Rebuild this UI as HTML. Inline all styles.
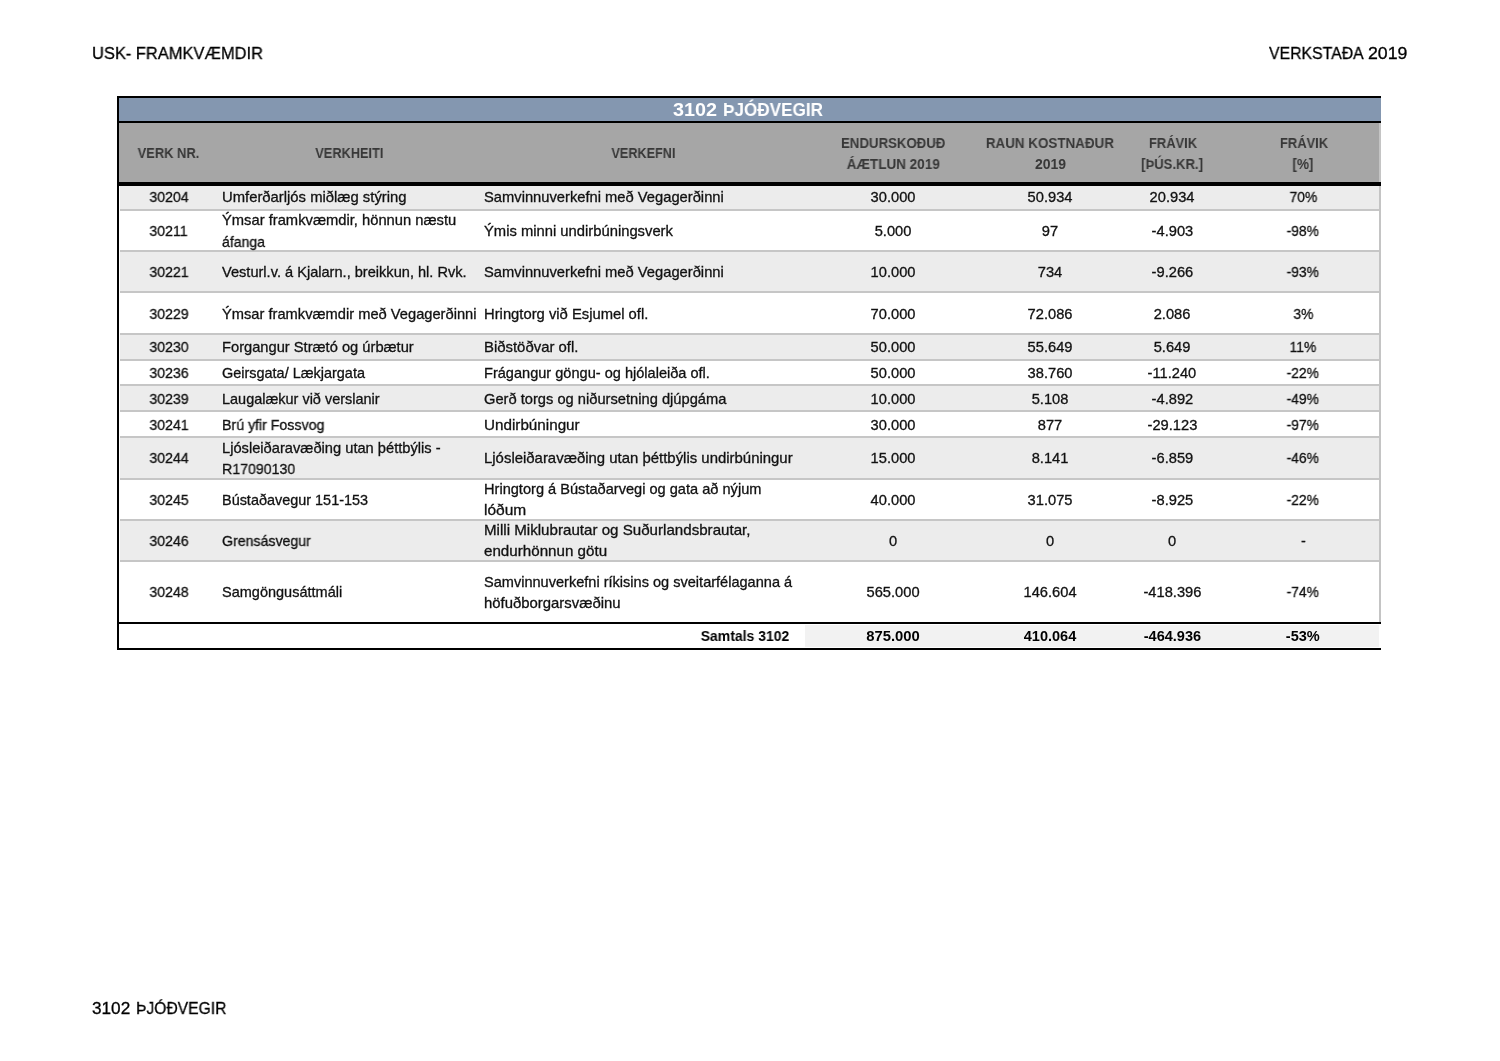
<!DOCTYPE html>
<html><head><meta charset="utf-8"><style>
*{margin:0;padding:0;box-sizing:border-box}
html,body{width:1500px;height:1061px;background:#fff;overflow:hidden;position:relative}
body{font-family:"Liberation Sans",sans-serif;color:#000}
.t{position:absolute;height:20px;line-height:20px;white-space:nowrap}
.t span{display:inline-block;will-change:transform}
.b{font-size:14.4px;color:#111;-webkit-text-stroke:0.3px #111;margin-top:-14.99px}
.h{font-size:14px;font-weight:bold;color:#383838;margin-top:-14.85px}
.tb{font-size:14.4px;font-weight:bold;color:#000;margin-top:-14.99px}
.pg{font-size:17.2px;color:#000;-webkit-text-stroke:0.3px #000;margin-top:-15.96px}
.ti{font-size:18px;font-weight:bold;color:#fff;margin-top:-16.24px}
.l span{transform-origin:0 50%}
.c span{transform-origin:50% 50%}
.r span{transform-origin:100% 50%}
.fill{position:absolute;left:120px;width:1259px}
.sep{position:absolute;left:120px;width:1259px;height:2px;background:#c6c6c6}
.blk{position:absolute;background:#000}
</style></head><body>
<div class="t pg l" style="top:59px;left:91.5px;"><span style="transform:scaleX(0.957)">USK- FRAMKVÆMDIR</span></div>
<div class="t pg l" style="top:59px;left:1268.8px;"><span style="transform:scaleX(0.921)">VERKSTAÐA</span></div>
<div class="t pg l" style="top:59px;left:1368.3px;"><span style="transform:scaleX(1.03)">2019</span></div>
<div class="t pg l" style="top:1014px;left:91.5px;"><span>3102</span></div>
<div class="t pg l" style="top:1014px;left:135.7px;"><span style="transform:scaleX(0.91)">ÞJÓÐVEGIR</span></div>
<div style="position:absolute;left:119px;top:98px;width:1262px;height:23px;background:#8497b0"></div>
<div style="position:absolute;left:119px;top:123px;width:1260px;height:59px;background:#a6a6a6"></div>
<div style="position:absolute;left:1379px;top:123px;width:2px;height:59px;background:#c4c4c4"></div>
<div style="position:absolute;left:1379px;top:186px;width:2px;height:436px;background:#c4c4c4"></div>
<div class="t ti l" style="top:115.8px;left:673.3px;"><span style="transform:scaleX(1.1)">3102</span></div>
<div class="t ti l" style="top:115.8px;left:722.5px;"><span style="transform:scaleX(0.952)">ÞJÓÐVEGIR</span></div>
<div class="t h c" style="top:158px;left:-131.5px;width:600px;text-align:center;"><span style="transform:scaleX(0.921)">VERK NR.</span></div>
<div class="t h c" style="top:158px;left:49.60000000000002px;width:600px;text-align:center;"><span style="transform:scaleX(0.912)">VERKHEITI</span></div>
<div class="t h c" style="top:158px;left:343.5px;width:600px;text-align:center;"><span style="transform:scaleX(0.903)">VERKEFNI</span></div>
<div class="t h c" style="top:147.8px;left:593.2px;width:600px;text-align:center;"><span style="transform:scaleX(0.945)">ENDURSKOÐUÐ</span></div>
<div class="t h c" style="top:168.9px;left:593.5px;width:600px;text-align:center;"><span style="transform:scaleX(0.965)">ÁÆTLUN 2019</span></div>
<div class="t h c" style="top:147.8px;left:750.2px;width:600px;text-align:center;"><span style="transform:scaleX(0.957)">RAUN KOSTNAÐUR</span></div>
<div class="t h c" style="top:168.9px;left:750.2px;width:600px;text-align:center;"><span>2019</span></div>
<div class="t h c" style="top:147.8px;left:873px;width:600px;text-align:center;"><span style="transform:scaleX(0.925)">FRÁVIK</span></div>
<div class="t h c" style="top:168.9px;left:872.4000000000001px;width:600px;text-align:center;"><span style="transform:scaleX(0.935)">[ÞÚS.KR.]</span></div>
<div class="t h c" style="top:147.8px;left:1003.7px;width:600px;text-align:center;"><span style="transform:scaleX(0.925)">FRÁVIK</span></div>
<div class="t h c" style="top:168.9px;left:1003.3px;width:600px;text-align:center;"><span style="transform:scaleX(0.962)">[%]</span></div>
<div class="fill" style="top:186px;height:23px;background:#ececec"></div>
<div class="sep" style="top:209px"></div>
<div class="t b c" style="top:201.7px;left:-131.4px;width:600px;text-align:center;"><span style="transform:scaleX(0.98)">30204</span></div>
<div class="t b l" style="top:201.7px;left:222.2px;"><span style="transform:scaleX(1.03)">Umferðarljós miðlæg stýring</span></div>
<div class="t b l" style="top:201.7px;left:484.3px;"><span style="transform:scaleX(1.023)">Samvinnuverkefni með Vegagerðinni</span></div>
<div class="t b c" style="top:201.7px;left:593.3px;width:600px;text-align:center;"><span style="transform:scaleX(1.02)">30.000</span></div>
<div class="t b c" style="top:201.7px;left:749.5999999999999px;width:600px;text-align:center;"><span style="transform:scaleX(1.02)">50.934</span></div>
<div class="t b c" style="top:201.7px;left:872.3px;width:600px;text-align:center;"><span style="transform:scaleX(1.02)">20.934</span></div>
<div class="t b c" style="top:201.7px;left:1003.3px;width:600px;text-align:center;"><span style="transform:scaleX(0.96)">70%</span></div>
<div class="fill" style="top:211px;height:39px;background:#ffffff"></div>
<div class="sep" style="top:250px"></div>
<div class="t b c" style="top:235.7px;left:-131.4px;width:600px;text-align:center;"><span style="transform:scaleX(0.98)">30211</span></div>
<div class="t b l" style="top:225.2px;left:222.2px;"><span style="transform:scaleX(1.024)">Ýmsar framkvæmdir, hönnun næstu</span></div>
<div class="t b l" style="top:247.2px;left:222.2px;"><span style="transform:scaleX(0.978)">áfanga</span></div>
<div class="t b l" style="top:235.7px;left:484.3px;"><span style="transform:scaleX(1.027)">Ýmis minni undirbúningsverk</span></div>
<div class="t b c" style="top:235.7px;left:593.3px;width:600px;text-align:center;"><span style="transform:scaleX(1.02)">5.000</span></div>
<div class="t b c" style="top:235.7px;left:749.5999999999999px;width:600px;text-align:center;"><span style="transform:scaleX(1.02)">97</span></div>
<div class="t b c" style="top:235.7px;left:872.3px;width:600px;text-align:center;"><span style="transform:scaleX(1.02)">-4.903</span></div>
<div class="t b c" style="top:235.7px;left:1003.3px;width:600px;text-align:center;"><span style="transform:scaleX(0.96)">-98%</span></div>
<div class="fill" style="top:252px;height:39px;background:#ececec"></div>
<div class="sep" style="top:291px"></div>
<div class="t b c" style="top:277.0px;left:-131.4px;width:600px;text-align:center;"><span style="transform:scaleX(0.98)">30221</span></div>
<div class="t b l" style="top:277.0px;left:222.2px;"><span style="transform:scaleX(1.014)">Vesturl.v. á Kjalarn., breikkun, hl. Rvk.</span></div>
<div class="t b l" style="top:277.0px;left:484.3px;"><span style="transform:scaleX(1.023)">Samvinnuverkefni með Vegagerðinni</span></div>
<div class="t b c" style="top:277.0px;left:593.3px;width:600px;text-align:center;"><span style="transform:scaleX(1.02)">10.000</span></div>
<div class="t b c" style="top:277.0px;left:749.5999999999999px;width:600px;text-align:center;"><span style="transform:scaleX(1.02)">734</span></div>
<div class="t b c" style="top:277.0px;left:872.3px;width:600px;text-align:center;"><span style="transform:scaleX(1.02)">-9.266</span></div>
<div class="t b c" style="top:277.0px;left:1003.3px;width:600px;text-align:center;"><span style="transform:scaleX(0.96)">-93%</span></div>
<div class="fill" style="top:293px;height:40px;background:#ffffff"></div>
<div class="sep" style="top:333px"></div>
<div class="t b c" style="top:318.7px;left:-131.4px;width:600px;text-align:center;"><span style="transform:scaleX(0.98)">30229</span></div>
<div class="t b l" style="top:318.7px;left:222.2px;"><span style="transform:scaleX(1.02)">Ýmsar framkvæmdir með Vegagerðinni</span></div>
<div class="t b l" style="top:318.7px;left:484.3px;"><span style="transform:scaleX(1.027)">Hringtorg við Esjumel ofl.</span></div>
<div class="t b c" style="top:318.7px;left:593.3px;width:600px;text-align:center;"><span style="transform:scaleX(1.02)">70.000</span></div>
<div class="t b c" style="top:318.7px;left:749.5999999999999px;width:600px;text-align:center;"><span style="transform:scaleX(1.02)">72.086</span></div>
<div class="t b c" style="top:318.7px;left:872.3px;width:600px;text-align:center;"><span style="transform:scaleX(1.02)">2.086</span></div>
<div class="t b c" style="top:318.7px;left:1003.3px;width:600px;text-align:center;"><span style="transform:scaleX(0.96)">3%</span></div>
<div class="fill" style="top:335px;height:24px;background:#ececec"></div>
<div class="sep" style="top:359px"></div>
<div class="t b c" style="top:352.0px;left:-131.4px;width:600px;text-align:center;"><span style="transform:scaleX(0.98)">30230</span></div>
<div class="t b l" style="top:352.0px;left:222.2px;"><span style="transform:scaleX(1.02)">Forgangur Strætó og úrbætur</span></div>
<div class="t b l" style="top:352.0px;left:484.3px;"><span style="transform:scaleX(1.035)">Biðstöðvar ofl.</span></div>
<div class="t b c" style="top:352.0px;left:593.3px;width:600px;text-align:center;"><span style="transform:scaleX(1.02)">50.000</span></div>
<div class="t b c" style="top:352.0px;left:749.5999999999999px;width:600px;text-align:center;"><span style="transform:scaleX(1.02)">55.649</span></div>
<div class="t b c" style="top:352.0px;left:872.3px;width:600px;text-align:center;"><span style="transform:scaleX(1.02)">5.649</span></div>
<div class="t b c" style="top:352.0px;left:1003.3px;width:600px;text-align:center;"><span style="transform:scaleX(0.96)">11%</span></div>
<div class="fill" style="top:361px;height:23px;background:#ffffff"></div>
<div class="sep" style="top:384px"></div>
<div class="t b c" style="top:377.9px;left:-131.4px;width:600px;text-align:center;"><span style="transform:scaleX(0.98)">30236</span></div>
<div class="t b l" style="top:377.9px;left:222.2px;"><span style="transform:scaleX(1.004)">Geirsgata/ Lækjargata</span></div>
<div class="t b l" style="top:377.9px;left:484.3px;"><span style="transform:scaleX(1.012)">Frágangur göngu- og hjólaleiða ofl.</span></div>
<div class="t b c" style="top:377.9px;left:593.3px;width:600px;text-align:center;"><span style="transform:scaleX(1.02)">50.000</span></div>
<div class="t b c" style="top:377.9px;left:749.5999999999999px;width:600px;text-align:center;"><span style="transform:scaleX(1.02)">38.760</span></div>
<div class="t b c" style="top:377.9px;left:872.3px;width:600px;text-align:center;"><span style="transform:scaleX(1.02)">-11.240</span></div>
<div class="t b c" style="top:377.9px;left:1003.3px;width:600px;text-align:center;"><span style="transform:scaleX(0.96)">-22%</span></div>
<div class="fill" style="top:386px;height:24px;background:#ececec"></div>
<div class="sep" style="top:410px"></div>
<div class="t b c" style="top:403.8px;left:-131.4px;width:600px;text-align:center;"><span style="transform:scaleX(0.98)">30239</span></div>
<div class="t b l" style="top:403.8px;left:222.2px;"><span style="transform:scaleX(1.005)">Laugalækur við verslanir</span></div>
<div class="t b l" style="top:403.8px;left:484.3px;"><span style="transform:scaleX(1.02)">Gerð torgs og niðursetning djúpgáma</span></div>
<div class="t b c" style="top:403.8px;left:593.3px;width:600px;text-align:center;"><span style="transform:scaleX(1.02)">10.000</span></div>
<div class="t b c" style="top:403.8px;left:749.5999999999999px;width:600px;text-align:center;"><span style="transform:scaleX(1.02)">5.108</span></div>
<div class="t b c" style="top:403.8px;left:872.3px;width:600px;text-align:center;"><span style="transform:scaleX(1.02)">-4.892</span></div>
<div class="t b c" style="top:403.8px;left:1003.3px;width:600px;text-align:center;"><span style="transform:scaleX(0.96)">-49%</span></div>
<div class="fill" style="top:412px;height:24px;background:#ffffff"></div>
<div class="sep" style="top:436px"></div>
<div class="t b c" style="top:429.7px;left:-131.4px;width:600px;text-align:center;"><span style="transform:scaleX(0.98)">30241</span></div>
<div class="t b l" style="top:429.7px;left:222.2px;"><span style="transform:scaleX(0.985)">Brú yfir Fossvog</span></div>
<div class="t b l" style="top:429.7px;left:484.3px;"><span style="transform:scaleX(1.058)">Undirbúningur</span></div>
<div class="t b c" style="top:429.7px;left:593.3px;width:600px;text-align:center;"><span style="transform:scaleX(1.02)">30.000</span></div>
<div class="t b c" style="top:429.7px;left:749.5999999999999px;width:600px;text-align:center;"><span style="transform:scaleX(1.02)">877</span></div>
<div class="t b c" style="top:429.7px;left:872.3px;width:600px;text-align:center;"><span style="transform:scaleX(1.02)">-29.123</span></div>
<div class="t b c" style="top:429.7px;left:1003.3px;width:600px;text-align:center;"><span style="transform:scaleX(0.96)">-97%</span></div>
<div class="fill" style="top:438px;height:40px;background:#ececec"></div>
<div class="sep" style="top:478px"></div>
<div class="t b c" style="top:463.2px;left:-131.4px;width:600px;text-align:center;"><span style="transform:scaleX(0.98)">30244</span></div>
<div class="t b l" style="top:452.7px;left:222.2px;"><span style="transform:scaleX(1.02)">Ljósleiðaravæðing utan þéttbýlis -</span></div>
<div class="t b l" style="top:473.7px;left:222.2px;"><span style="transform:scaleX(0.982)">R17090130</span></div>
<div class="t b l" style="top:463.2px;left:484.3px;"><span style="transform:scaleX(1.037)">Ljósleiðaravæðing utan þéttbýlis undirbúningur</span></div>
<div class="t b c" style="top:463.2px;left:593.3px;width:600px;text-align:center;"><span style="transform:scaleX(1.02)">15.000</span></div>
<div class="t b c" style="top:463.2px;left:749.5999999999999px;width:600px;text-align:center;"><span style="transform:scaleX(1.02)">8.141</span></div>
<div class="t b c" style="top:463.2px;left:872.3px;width:600px;text-align:center;"><span style="transform:scaleX(1.02)">-6.859</span></div>
<div class="t b c" style="top:463.2px;left:1003.3px;width:600px;text-align:center;"><span style="transform:scaleX(0.96)">-46%</span></div>
<div class="fill" style="top:480px;height:39px;background:#ffffff"></div>
<div class="sep" style="top:519px"></div>
<div class="t b c" style="top:504.7px;left:-131.4px;width:600px;text-align:center;"><span style="transform:scaleX(0.98)">30245</span></div>
<div class="t b l" style="top:504.7px;left:222.2px;"><span style="transform:scaleX(1.003)">Bústaðavegur 151-153</span></div>
<div class="t b l" style="top:494.2px;left:484.3px;"><span style="transform:scaleX(1.014)">Hringtorg á Bústaðarvegi og gata að nýjum</span></div>
<div class="t b l" style="top:515.2px;left:484.3px;"><span style="transform:scaleX(1.078)">lóðum</span></div>
<div class="t b c" style="top:504.7px;left:593.3px;width:600px;text-align:center;"><span style="transform:scaleX(1.02)">40.000</span></div>
<div class="t b c" style="top:504.7px;left:749.5999999999999px;width:600px;text-align:center;"><span style="transform:scaleX(1.02)">31.075</span></div>
<div class="t b c" style="top:504.7px;left:872.3px;width:600px;text-align:center;"><span style="transform:scaleX(1.02)">-8.925</span></div>
<div class="t b c" style="top:504.7px;left:1003.3px;width:600px;text-align:center;"><span style="transform:scaleX(0.96)">-22%</span></div>
<div class="fill" style="top:521px;height:39px;background:#ececec"></div>
<div class="sep" style="top:560px"></div>
<div class="t b c" style="top:545.7px;left:-131.4px;width:600px;text-align:center;"><span style="transform:scaleX(0.98)">30246</span></div>
<div class="t b l" style="top:545.7px;left:222.2px;"><span style="transform:scaleX(0.983)">Grensásvegur</span></div>
<div class="t b l" style="top:535.2px;left:484.3px;"><span style="transform:scaleX(1.051)">Milli Miklubrautar og Suðurlandsbrautar,</span></div>
<div class="t b l" style="top:556.2px;left:484.3px;"><span style="transform:scaleX(1.054)">endurhönnun götu</span></div>
<div class="t b c" style="top:545.7px;left:593.3px;width:600px;text-align:center;"><span style="transform:scaleX(1.02)">0</span></div>
<div class="t b c" style="top:545.7px;left:749.5999999999999px;width:600px;text-align:center;"><span style="transform:scaleX(1.02)">0</span></div>
<div class="t b c" style="top:545.7px;left:872.3px;width:600px;text-align:center;"><span style="transform:scaleX(1.02)">0</span></div>
<div class="t b c" style="top:545.7px;left:1003.3px;width:600px;text-align:center;"><span style="transform:scaleX(0.96)">-</span></div>
<div class="fill" style="top:562px;height:60px;background:#ffffff"></div>
<div class="t b c" style="top:597.2px;left:-131.4px;width:600px;text-align:center;"><span style="transform:scaleX(0.98)">30248</span></div>
<div class="t b l" style="top:597.2px;left:222.2px;"><span style="transform:scaleX(1.008)">Samgöngusáttmáli</span></div>
<div class="t b l" style="top:586.7px;left:484.3px;"><span style="transform:scaleX(1.011)">Samvinnuverkefni ríkisins og sveitarfélaganna á</span></div>
<div class="t b l" style="top:607.7px;left:484.3px;"><span style="transform:scaleX(1.035)">höfuðborgarsvæðinu</span></div>
<div class="t b c" style="top:597.2px;left:593.3px;width:600px;text-align:center;"><span style="transform:scaleX(1.02)">565.000</span></div>
<div class="t b c" style="top:597.2px;left:749.5999999999999px;width:600px;text-align:center;"><span style="transform:scaleX(1.02)">146.604</span></div>
<div class="t b c" style="top:597.2px;left:872.3px;width:600px;text-align:center;"><span style="transform:scaleX(1.02)">-418.396</span></div>
<div class="t b c" style="top:597.2px;left:1003.3px;width:600px;text-align:center;"><span style="transform:scaleX(0.96)">-74%</span></div>
<div style="position:absolute;left:805px;top:625px;width:574px;height:22px;background:#f2f2f2"></div>
<div class="t tb r" style="top:641px;left:189.5px;width:600px;text-align:right;"><span style="transform:scaleX(0.97)">Samtals 3102</span></div>
<div class="t tb c" style="top:641px;left:593.3px;width:600px;text-align:center;"><span style="transform:scaleX(1.03)">875.000</span></div>
<div class="t tb c" style="top:641px;left:749.5999999999999px;width:600px;text-align:center;"><span style="transform:scaleX(1.01)">410.064</span></div>
<div class="t tb c" style="top:641px;left:872.3px;width:600px;text-align:center;"><span style="transform:scaleX(1.01)">-464.936</span></div>
<div class="t tb c" style="top:641px;left:1003.3px;width:600px;text-align:center;"><span style="transform:scaleX(1.01)">-53%</span></div>
<div class="blk" style="left:117px;top:96px;width:1264px;height:2px"></div>
<div class="blk" style="left:117px;top:121px;width:1264px;height:2px"></div>
<div class="blk" style="left:117px;top:182px;width:1264px;height:4px"></div>
<div class="blk" style="left:117px;top:622px;width:1264px;height:2px"></div>
<div class="blk" style="left:117px;top:648px;width:1264px;height:2px"></div>
<div class="blk" style="left:117px;top:96px;width:2px;height:554px"></div>
</body></html>
